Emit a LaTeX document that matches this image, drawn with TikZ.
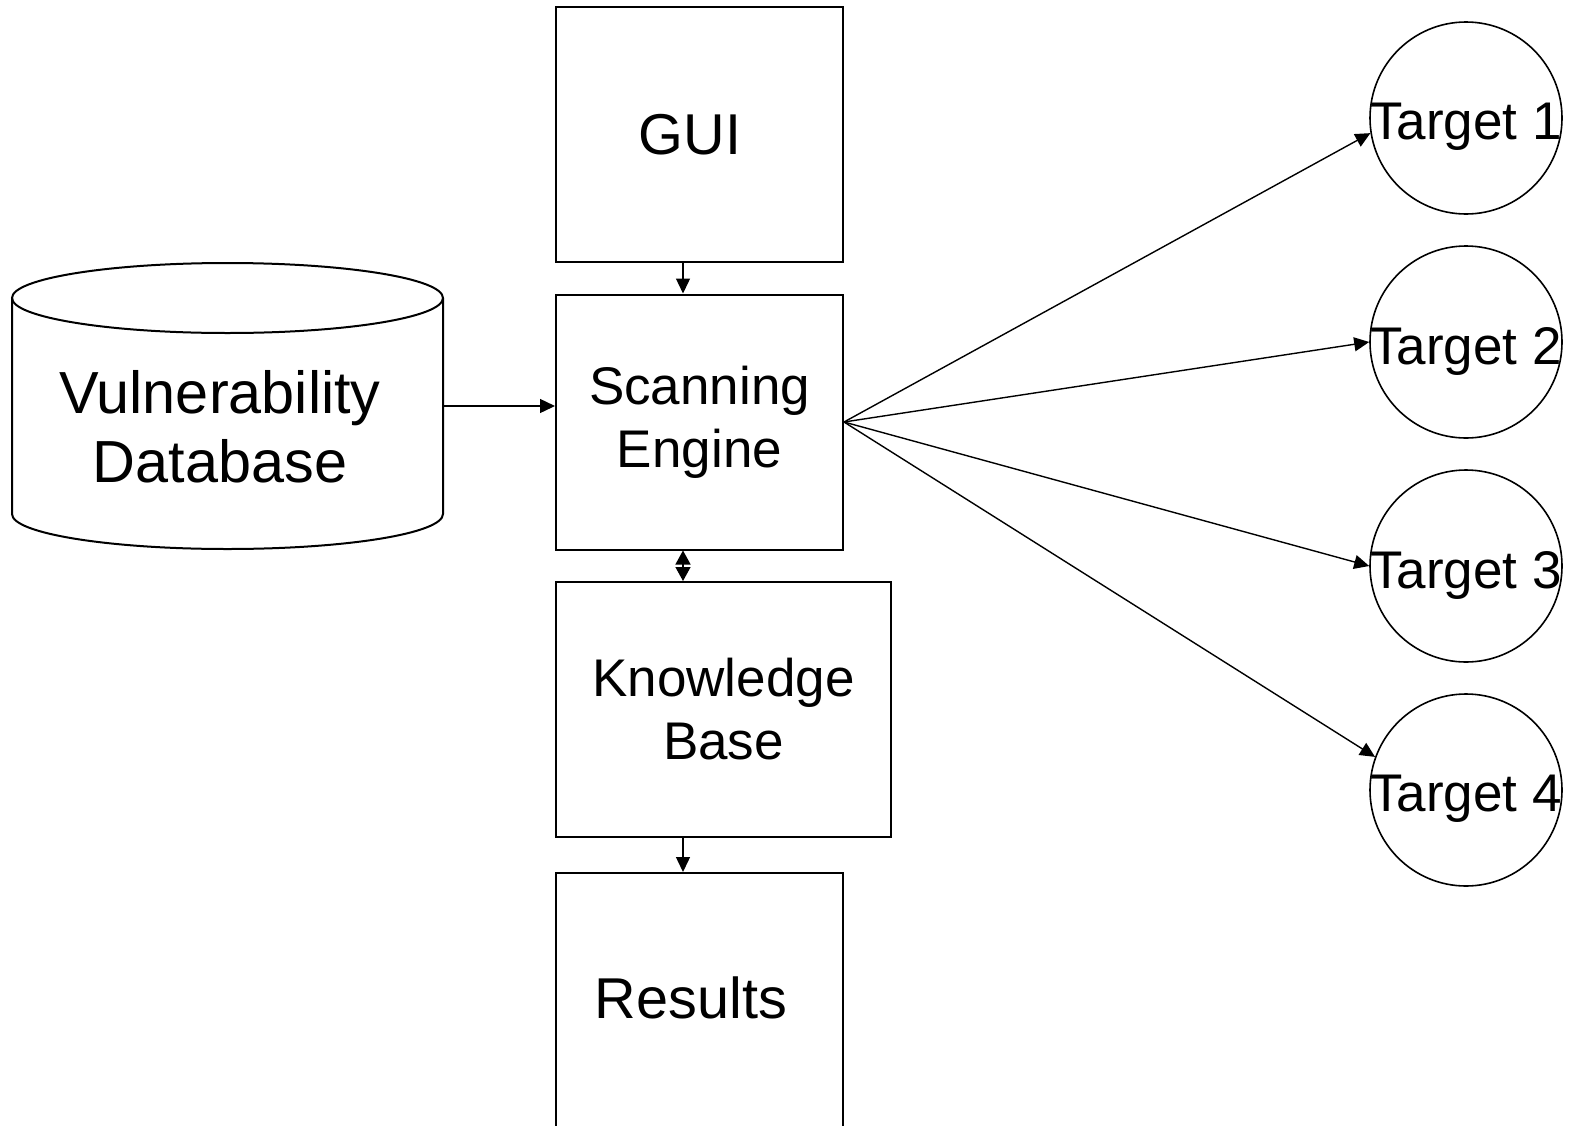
\documentclass[tikz,border=0pt]{standalone}
\usepackage{fontspec}
\setmainfont{Liberation Sans}
\usetikzlibrary{arrows.meta}

\tikzset{
  box/.style={draw, line width=1pt, inner sep=0pt, minimum width=143.5pt, minimum height=127.5pt, align=center},
  bigtext/.style={font=\fontsize{28.8}{34.5}\selectfont},
  smalltext/.style={font=\fontsize{26.5}{31.5}\selectfont},
  target/.style={draw, circle, line width=0.8pt, minimum size=96pt, inner sep=0pt},
  arr/.style={-{Triangle[length=7.5pt,width=7pt]}, line width=0.7pt},
  dblarr/.style={{Triangle[length=7pt,width=7.5pt]}-{Triangle[length=7pt,width=7.5pt]}, line width=0.7pt},
}

\begin{document}
\begin{tikzpicture}[x=0.5pt, y=-0.5pt]
\clip (0,0) rectangle (1569,1125);
% middle column
\node[box] (gui) at (699.5,134.5) {};
\node[bigtext] (guitext) at (690,134.5) {GUI};
\node[box, smalltext] (se) at (699.5,422) {Scanning\\Engine};
\node[box, smalltext, minimum width=167.5pt] (kb) at (723.5,709.5) {Knowledge\\Base};
\node[box] (res) at (699.5,1000.5) {};
\node[bigtext] (restext) at (691,998) {Results};
% database cylinder
\draw[line width=1pt] (227.5,298) ellipse [x radius=215.5, y radius=35];
\draw[line width=1pt] (12,298) -- (12,514) arc[start angle=180, end angle=0, x radius=215.5, y radius=35] -- (443,298);
\node[inner sep=0pt, minimum width=215.5pt, minimum height=143pt] (db) at (227.5,406) {};
\node[font=\fontsize{29.7}{34.5}\selectfont, align=center] (dbtext) at (220,426.5) {Vulnerability\\Database};
% targets
\foreach \i/\y in {1/118, 2/342, 3/566, 4/790} {
  \node[target] (t\i) at (1466,\y) {};
  \node[smalltext] (l\i) at (1466,\y+9) {Target \i};
}
% connectors
\coordinate (spine) at (683,0);
\draw[arr] (gui.south -| spine) -- (se.north -| spine);
\draw[dblarr] (se.south -| spine) -- (kb.north -| spine);
\draw[arr] (kb.south -| spine) -- (res.north -| spine);
\draw[arr] (db.east) -- (db.east -| se.west);
\draw[arr] (se.east) -- (t1.189);
\draw[arr] (se.east) -- (t2.west);
\draw[arr] (se.east) -- (t3.west);
\draw[arr] (se.east) -- (t4.160);
\end{tikzpicture}
\end{document}
